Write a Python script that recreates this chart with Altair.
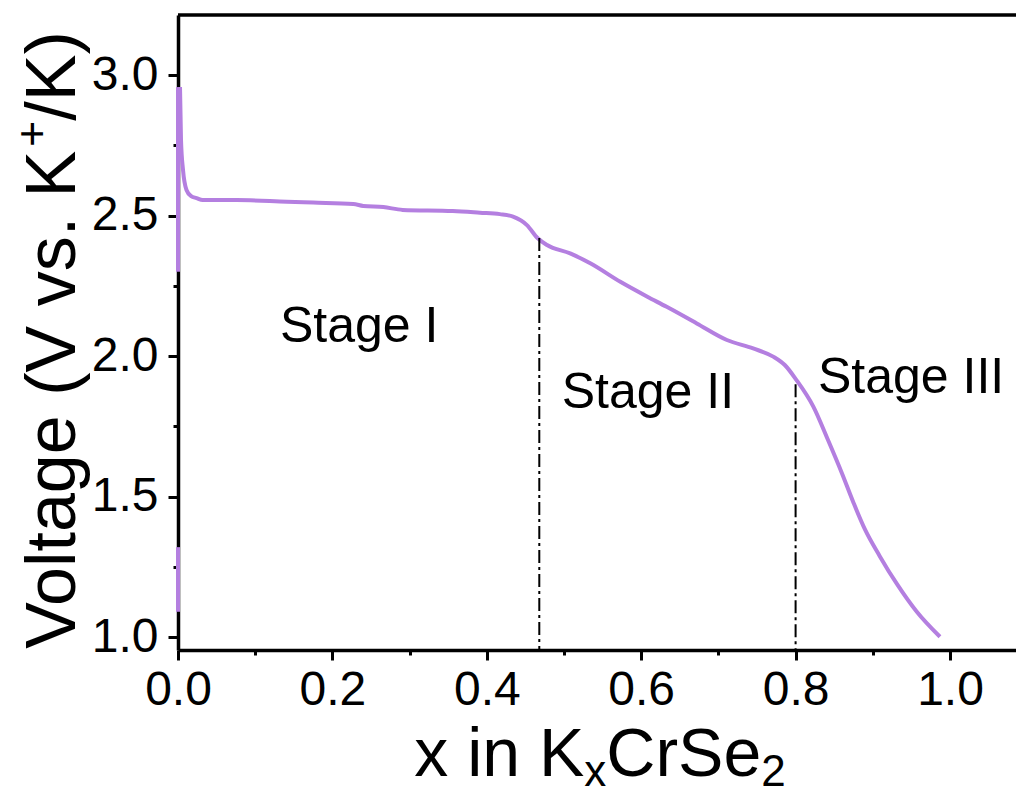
import altair as alt
import pandas as pd

# ---------------- data ----------------
curve_x = [0.0026, 0.0039, 0.0065, 0.011, 0.017, 0.024, 0.032, 0.076, 0.141, 0.175,
           0.227, 0.240, 0.266, 0.291, 0.356, 0.391, 0.417, 0.434, 0.452, 0.466,
           0.478, 0.508, 0.534, 0.573, 0.608, 0.633, 0.672, 0.711, 0.745, 0.771,
           0.786, 0.801, 0.823, 0.842, 0.860, 0.875, 0.890, 0.909, 0.931, 0.957, 0.987]
curve_v = [2.957, 2.769, 2.662, 2.591, 2.569, 2.562, 2.555, 2.555, 2.549, 2.546,
           2.541, 2.534, 2.530, 2.520, 2.516, 2.510, 2.505, 2.496, 2.466, 2.419,
           2.395, 2.365, 2.330, 2.264, 2.211, 2.175, 2.116, 2.057, 2.027, 1.998,
           1.968, 1.915, 1.820, 1.701, 1.583, 1.478, 1.382, 1.288, 1.190, 1.090, 1.001]

# short vertical traces sitting on x = 0
edge_x = [0.0, 0.0, 0.0, 0.0]
edge_v = [2.957, 2.30, 1.32, 1.09]
edge_seg = ["a", "a", "b", "b"]

# stage boundaries (dash-dot lines)
bound_x = [0.468, 0.80]
bound_top = [2.42, 1.90]

# stage annotations
stage_text = ["Stage I", "Stage II", "Stage III"]
stage_x = [0.132, 0.497, 0.829]
stage_v = [2.05, 1.815, 1.868]

x_major = [0.0, 0.2, 0.4, 0.6, 0.8, 1.0]
x_minor = [0.1, 0.3, 0.5, 0.7, 0.9]
y_major = [1.0, 1.5, 2.0, 2.5, 3.0]
y_minor = [1.25, 1.75, 2.25, 2.75]

# ---------------- layout ----------------
W, H = 838, 635
FONT = "Liberation Sans"
PURPLE = "#B47FE0"
xs = alt.Scale(domain=[0, 1.0855], nice=False, zero=False)
ys = alt.Scale(domain=[0.954, 3.2135], nice=False, zero=False)

df_curve = pd.DataFrame({"x": curve_x, "v": curve_v})
df_edge = pd.DataFrame({"x": edge_x, "v": edge_v, "seg": edge_seg})
df_bound = pd.DataFrame({"x": bound_x, "top": bound_top})
df_stage = pd.DataFrame({"t": stage_text, "x": stage_x, "v": stage_v})
one = pd.DataFrame({"k": [0]})

curve = alt.Chart(df_curve).mark_line(color=PURPLE, strokeWidth=4, interpolate="monotone").encode(
    x=alt.X("x:Q", scale=xs, axis=alt.Axis(values=x_major, format=".1f", tickSize=10, title=None,
                                             labelPadding=6, labelFlush=False, orient="bottom")),
    y=alt.Y("v:Q", scale=ys, axis=alt.Axis(values=y_major, format=".1f", tickSize=10, title=None,
                                             labelPadding=10, labelFlush=False, orient="left")),
)

edges = alt.Chart(df_edge).mark_line(color=PURPLE, strokeWidth=4).encode(
    x=alt.X("x:Q", scale=xs, axis=None),
    y=alt.Y("v:Q", scale=ys, axis=None),
    detail="seg:N",
)

bounds = alt.Chart(df_bound).mark_rule(color="black", strokeWidth=2, strokeDash=[13, 4, 3, 4]).encode(
    x=alt.X("x:Q", scale=xs, axis=None),
    y=alt.Y("top:Q", scale=ys, axis=None),
    y2=alt.value(H),
)

stages = alt.Chart(df_stage).mark_text(font=FONT, fontSize=50, align="left", baseline="alphabetic",
                                         color="black").encode(
    x=alt.X("x:Q", scale=xs, axis=alt.Axis(values=x_minor, labels=False, domain=False, tickSize=5,
                                             title=None, orient="bottom")),
    y=alt.Y("v:Q", scale=ys, axis=alt.Axis(values=y_minor, labels=False, domain=False, tickSize=5,
                                             title=None, orient="left")),
    text="t:N",
)

top_border = alt.Chart(one).mark_rule(color="black", strokeWidth=3.5).encode(
    x=alt.value(0), x2=alt.value(W), y=alt.value(0)
)

# ---- axis titles with sub/superscripts, composed from pieces ----
WID = {' ': 278, '(': 333, ')': 333, '+': 584, '.': 278, '/': 278, '2': 556, 'C': 722,
       'K': 667, 'S': 667, 'V': 667, 'a': 556, 'e': 556, 'g': 556, 'i': 222, 'l': 222,
       'n': 556, 'o': 556, 'r': 333, 's': 500, 't': 278, 'v': 500, 'x': 500}


def tw(s, size):
    return sum(WID.get(c, 556) for c in s) * size / 1000.0


title_layers = []
# x title
FX, fx = 68, 44
xpieces = [("x in K", FX, 0), ("x", fx, 10), ("CrSe", FX, 0), ("2", fx, 10)]
total = sum(tw(s, f) for s, f, _ in xpieces)
pos = 422 - total / 2
for s, f, d in xpieces:
    title_layers.append(
        alt.Chart(one).mark_text(text=s, font=FONT, fontSize=f, align="left", baseline="alphabetic",
                                 color="black").encode(x=alt.value(pos), y=alt.value(761 + d)))
    pos += tw(s, f)

# y title (rotated)
FY, fy = 70, 45
ypieces = [("Voltage (V vs. K", FY, 0), ("+", fy, -28), ("/K)", FY, 0)]
total = sum(tw(s, f) for s, f, _ in ypieces)
pos = 325 + total / 2
for s, f, d in ypieces:
    title_layers.append(
        alt.Chart(one).mark_text(text=s, font=FONT, fontSize=f, align="left", baseline="alphabetic",
                                 angle=270, color="black").encode(x=alt.value(-103 + d), y=alt.value(pos)))
    pos -= tw(s, f)

chart = alt.layer(curve, edges, bounds, stages, top_border, *title_layers).resolve_axis(
    x="independent", y="independent"
).properties(
    width=W, height=H,
    autosize=alt.AutoSizeParams(type="none"),
    padding={"left": 178, "top": 15, "right": 0, "bottom": 141},
    background="white",
).configure_view(stroke=None).configure_axis(
    domainColor="black", domainWidth=3.5, tickColor="black", tickWidth=3, grid=False,
    labelFont=FONT, labelFontSize=48, labelColor="black", zindex=1,
)

chart.save("out.html", embed_options={"renderer": "svg", "actions": False})
